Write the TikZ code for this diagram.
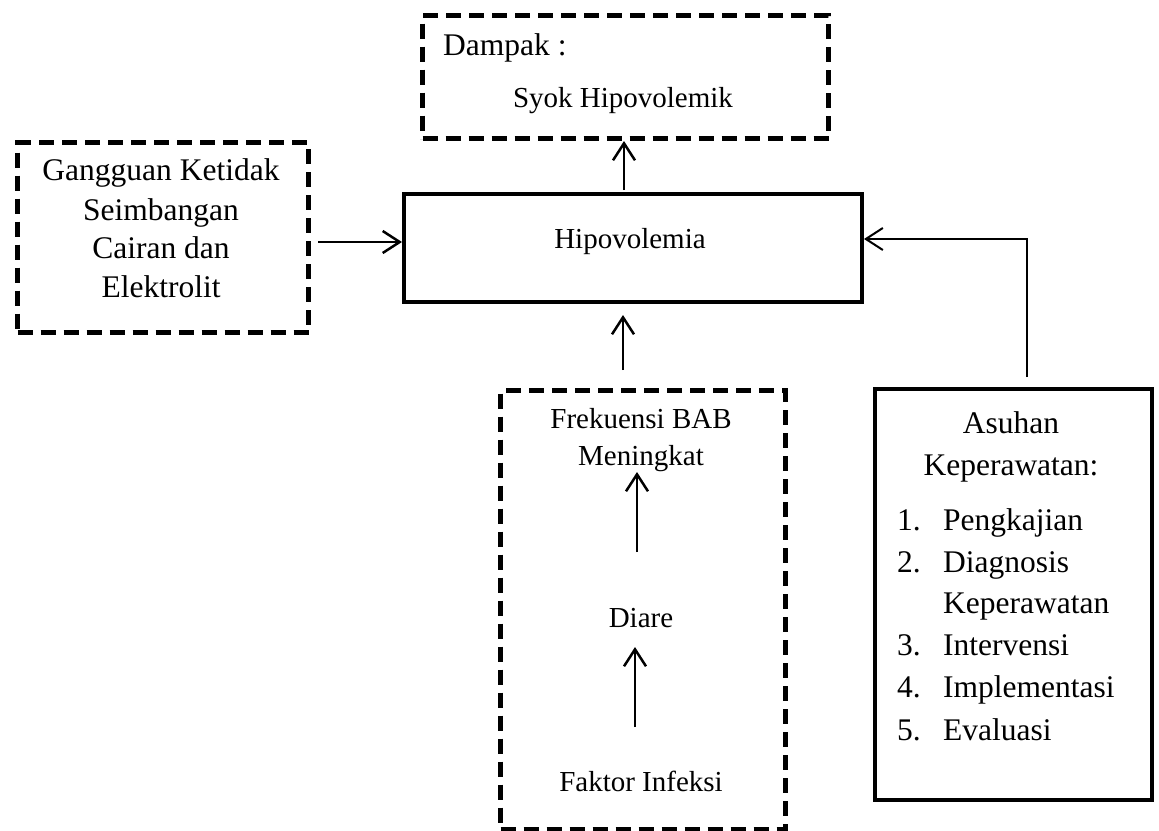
\documentclass[tikz,border=0pt]{standalone}
\usepackage{fontspec}
\setmainfont{Liberation Serif}
\usetikzlibrary{arrows.meta}
\begin{document}
\begin{tikzpicture}[x=1pt,y=-1pt,
  dbox/.style={draw, line width=5pt, dash pattern=on 15pt off 8pt, inner sep=0pt, anchor=north west},
  sbox/.style={draw, line width=4pt, inner sep=0pt, anchor=north west},
  big/.style={font=\fontsize{31.5}{39}\selectfont, inner sep=0pt},
  small/.style={font=\fontsize{29}{37}\selectfont, inner sep=0pt},
  arr/.style={line width=2.5pt, -{Straight Barb[length=17pt,width=22pt,line width=2.5pt]}},
  thinarr/.style={line width=2pt, -{Straight Barb[length=17pt,width=22pt,line width=2pt]}},
]
\useasboundingbox (0,0) rectangle (1159,830);
\fill[white] (0,0) rectangle (1159,830);

% boxes
\node[dbox, minimum width=406, minimum height=123] (damp) at (420,13) {};
\node[dbox, minimum width=291, minimum height=190] (gang) at (15,140) {};
\node[sbox, minimum width=458, minimum height=108] (hipo) at (402,192) {};
\node[dbox, minimum width=285, minimum height=439] (cause) at (498,388) {};
\node[sbox, minimum width=277, minimum height=411] (asuh) at (873,387) {};

% texts
\node[big, anchor=base west] (dl) at (443,55) {Dampak :};
\node[small, anchor=base] (syok) at (623,107) {Syok Hipovolemik};

\node[big, anchor=base] (g1) at (161,180) {Gangguan Ketidak};
\node[big, anchor=base] (g2) at (161,220) {Seimbangan};
\node[big, anchor=base] (g3) at (161,258) {Cairan dan};
\node[big, anchor=base] (g4) at (161,297) {Elektrolit};

\node[small, anchor=base] (hl) at (630,248) {Hipovolemia};

\node[small, anchor=base] (f1) at (641,428) {Frekuensi BAB};
\node[small, anchor=base] (f2) at (641,465) {Meningkat};
\node[small, anchor=base] (di) at (641,627) {Diare};
\node[small, anchor=base] (fi) at (641,791) {Faktor Infeksi};

\node[big, anchor=base] (as1) at (1011,433) {Asuhan};
\node[big, anchor=base] (as2) at (1011,475) {Keperawatan:};
\node[big, anchor=base west] (n1) at (897,530) {1.};
\node[big, anchor=base west] (t1) at (943,530) {Pengkajian};
\node[big, anchor=base west] (n2) at (897,572) {2.};
\node[big, anchor=base west] (t2) at (943,572) {Diagnosis};
\node[big, anchor=base west] (t2b) at (943,613) {Keperawatan};
\node[big, anchor=base west] (n3) at (897,655) {3.};
\node[big, anchor=base west] (t3) at (943,655) {Intervensi};
\node[big, anchor=base west] (n4) at (897,697) {4.};
\node[big, anchor=base west] (t4) at (943,697) {Implementasi};
\node[big, anchor=base west] (n5) at (897,740) {5.};
\node[big, anchor=base west] (t5) at (943,740) {Evaluasi};

% connectors
\coordinate (ga) at (318,242);
\draw[arr] (ga) -- (ga -| hipo.west);

\coordinate (hd) at (624,190);
\draw[arr] (hd) -- (hd |- damp.south);

\coordinate (cs) at (623,370);
\coordinate (ce) at (623,315);
\draw[arr] (cs) -- (ce);

\coordinate (d1s) at (637,552);
\coordinate (d1e) at (637,472);
\draw[arr] (d1s) -- (d1e);

\coordinate (d2s) at (635,727);
\coordinate (d2e) at (635,647);
\draw[arr] (d2s) -- (d2e);

\coordinate (as) at (1027,377);
\coordinate (ac) at (1027,239);
\draw[thinarr] (as) -- (ac) -- (ac -| hipo.east);
\end{tikzpicture}
\end{document}
